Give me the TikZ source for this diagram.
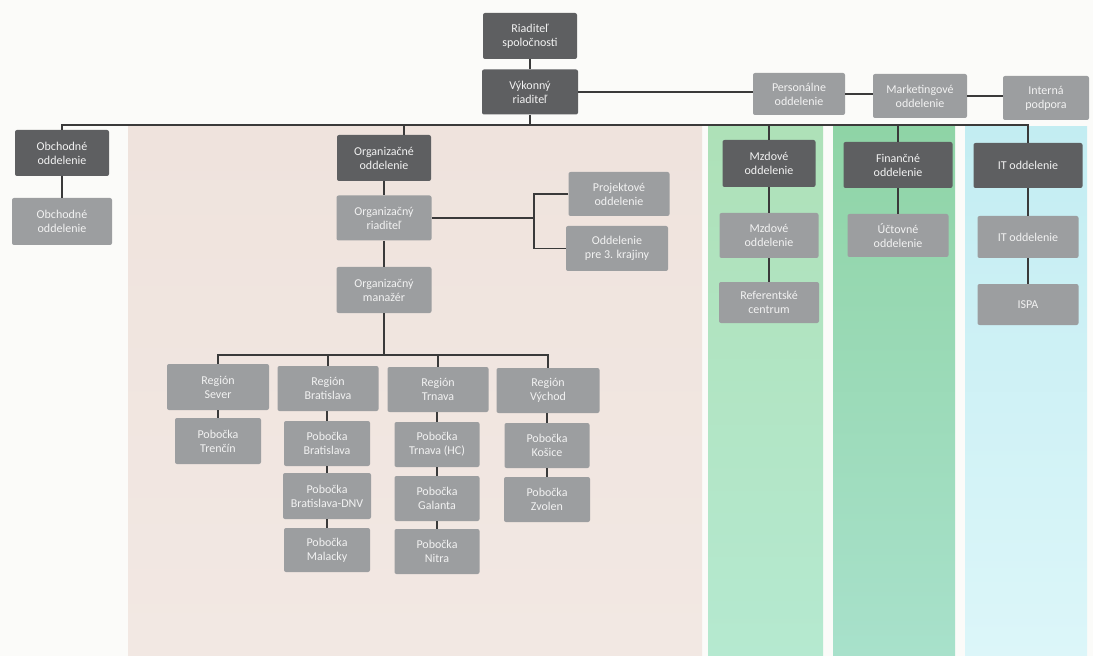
\documentclass[tikz,border=0pt]{standalone}
\usepackage{fontspec}
\setmainfont{Carlito}
\definecolor{darkbox}{HTML}{5E5F61}
\definecolor{lightbox}{HTML}{9C9EA0}
\definecolor{wire}{HTML}{3A3A3A}
\definecolor{boxtext}{HTML}{F2F2F2}
\definecolor{pinkbg}{HTML}{EFE3DD}
\definecolor{pinkbgb}{HTML}{F2E8E3}
\definecolor{gaT}{HTML}{AEE1B8}
\definecolor{gaB}{HTML}{B5E9D0}
\definecolor{gbT}{HTML}{8FD4A6}
\definecolor{gbB}{HTML}{A8E1CB}
\definecolor{cyT}{HTML}{C3EDF2}
\definecolor{cyB}{HTML}{DCF6F9}
\definecolor{paper}{HTML}{FBFBF9}
\tikzset{
  bx/.style={rounded corners=1.5pt, inner sep=0pt, align=center, text=boxtext,
    font=\fontsize{9}{10.4}\selectfont},
  dk/.style={bx, fill=darkbox},
  lt/.style={bx, fill=lightbox},
  bw/.style={minimum width=#1*0.75pt},
  bh/.style={minimum height=#1*0.75pt},
  link/.style={draw=wire, line width=1.1pt},
}
\begin{document}
\begin{tikzpicture}[x=0.75pt,y=-0.75pt]
\useasboundingbox (0,0) rectangle (1093,656);
\fill[paper] (0,0) rectangle (1093,656);
% background panels
\shade[top color=pinkbg, bottom color=pinkbgb] (128,126) rectangle (702,656);
\shade[top color=gaT, bottom color=gaB] (708,127) rectangle (823,656);
\shade[top color=gbT, bottom color=gbB] (833,127) rectangle (955,656);
\shade[top color=cyT, bottom color=cyB] (965,127) rectangle (1087,656);

% top
\node[dk, bw=94, bh=46] (rs) at (530,36) {Riaditeľ\\spoločnosti};
\node[dk, bw=96, bh=45] (vr) at (530,92) {Výkonný\\riaditeľ};
\node[lt, bw=92, bh=42] (pers) at (799,94) {Personálne\\oddelenie};
\node[lt, bw=94, bh=44] (mark) at (920,96) {Marketingové\\oddelenie};
\node[lt, bw=86, bh=44] (int) at (1046,98) {Interná\\podpora};

% left
\node[dk, bw=94, bh=46] (ob1) at (62,153) {Obchodné\\oddelenie};
\node[lt, bw=100, bh=47] (ob2) at (62,221.5) {Obchodné\\oddelenie};

% organizational
\node[dk, bw=94, bh=46] (oo) at (384,158) {Organizačné\\oddelenie};
\node[lt, bw=95, bh=45] (or) at (384,218) {Organizačný\\riaditeľ};
\node[lt, bw=95, bh=46] (om) at (384,290) {Organizačný\\manažér};
\node[lt, bw=101, bh=44] (proj) at (619,194) {Projektové\\oddelenie};
\node[lt, bw=102, bh=45] (d3) at (617,248.5) {Oddelenie\\pre 3. krajiny};

% green / cyan columns
\node[dk, bw=93, bh=47] (md1) at (769,163.5) {Mzdové\\oddelenie};
\node[lt, bw=99, bh=45] (md2) at (769,235.5) {Mzdové\\oddelenie};
\node[lt, bw=100, bh=41] (ref) at (769,302.5) {Referentské\\centrum};
\node[dk, bw=109, bh=46] (fin) at (898,165) {Finančné\\oddelenie};
\node[lt, bw=101, bh=43] (uct) at (898,235.5) {Účtovné\\oddelenie};
\node[dk, bw=109, bh=45] (it1) at (1028,165.5) {IT oddelenie};
\node[lt, bw=101, bh=42] (it2) at (1028,237) {IT oddelenie};
\node[lt, bw=101, bh=41] (ispa) at (1028,304.5) {ISPA};

% regions
\node[lt, bw=102, bh=46] (rsev) at (218,387) {Región\\Sever};
\node[lt, bw=101, bh=45] (rbra) at (328,388.5) {Región\\Bratislava};
\node[lt, bw=101, bh=45] (rtrn) at (438,389.5) {Región\\Trnava};
\node[lt, bw=103, bh=45] (rvych) at (548,390.5) {Región\\Východ};

\node[lt, bw=86, bh=46] (ptren) at (218,441) {Pobočka\\Trenčín};
\node[lt, bw=86, bh=45] (pbra) at (327,443.5) {Pobočka\\Bratislava};
\node[lt, bw=88, bh=46] (pdnv) at (327,496) {Pobočka\\Bratislava-DNV};
\node[lt, bw=86, bh=44] (pmal) at (327,550) {Pobočka\\Malacky};
\node[lt, bw=85, bh=45] (ptrn) at (437,444.5) {Pobočka\\Trnava (HC)};
\node[lt, bw=85, bh=45] (pgal) at (437,498.5) {Pobočka\\Galanta};
\node[lt, bw=85, bh=45] (pnit) at (437,551.5) {Pobočka\\Nitra};
\node[lt, bw=85, bh=45] (pkos) at (547,445.5) {Pobočka\\Košice};
\node[lt, bw=86, bh=45] (pzvo) at (547,499.5) {Pobočka\\Zvolen};

% connectors
\coordinate (bus) at (0,125);
\coordinate (rbus) at (0,355);
\coordinate (brx) at (534,0);

\draw[link] (rs.south) -- (vr.north);
\draw[link] (vr.east) -- (vr.east -| pers.west);
\draw[link] (pers.east) -- (pers.east -| mark.west);
\draw[link] (mark.east) -- (mark.east -| int.west);

\draw[link] (ob1.north) |- (bus -| it1.north) -- (it1.north);
\draw[link] (vr.south) -- (vr.south |- bus);
\draw[link] ([xshift=15pt]oo.north) -- ([xshift=15pt]oo.north |- bus);
\draw[link] (md1.north) -- (md1.north |- bus);
\draw[link] (fin.north) -- (fin.north |- bus);

\draw[link] (ob1.south) -- (ob2.north);
\draw[link] (oo.south) -- (or.north);
\draw[link] (or.south) -- (om.north);
\draw[link] (or.east) -- (or.east -| brx);
\draw[link] (proj.west) -| (brx |- d3.west) -- (d3.west);

\draw[link] (md1.south) -- (md2.north);
\draw[link] (md2.south) -- (ref.north);
\draw[link] (fin.south) -- (uct.north);
\draw[link] (it1.south) -- (it2.north);
\draw[link] (it2.south) -- (ispa.north);

\draw[link] (om.south) -- (om.south |- rbus);
\draw[link] (rsev.north) |- (rbus -| rvych.north) -- (rvych.north);
\draw[link] (rbra.north) -- (rbra.north |- rbus);
\draw[link] (rtrn.north) -- (rtrn.north |- rbus);

\draw[link] (rsev.south) -- (ptren.north);
\draw[link] (rbra.south -| pbra.north) -- (pbra.north);
\draw[link] (pbra.south) -- (pdnv.north);
\draw[link] (pdnv.south) -- (pmal.north);
\draw[link] (rtrn.south -| ptrn.north) -- (ptrn.north);
\draw[link] (ptrn.south) -- (pgal.north);
\draw[link] (pgal.south) -- (pnit.north);
\draw[link] (rvych.south -| pkos.north) -- (pkos.north);
\draw[link] (pkos.south) -- (pzvo.north);
\end{tikzpicture}
\end{document}
